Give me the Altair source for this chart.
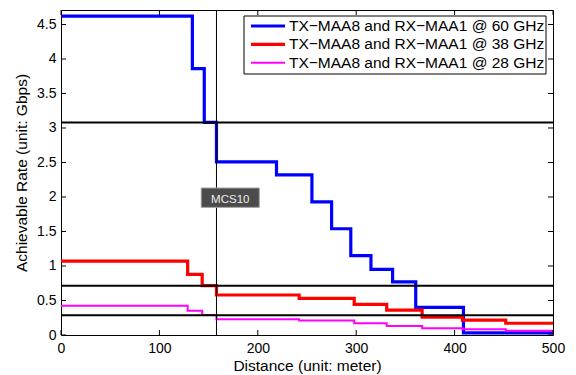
import altair as alt
import pandas as pd

# ---- data ----
dist_blue = [0, 133.5, 145.6, 158, 219, 255, 275, 294.5, 315, 337, 360.5, 409, 500]
rate_blue = [4.62, 3.86, 3.08, 2.51, 2.32, 1.93, 1.54, 1.15, 0.95, 0.77, 0.40, 0.03, 0.03]
dist_low = [0, 128.7, 143.5, 158, 242, 298, 331, 367, 408, 452, 500]
rate_red = [1.07, 0.88, 0.715, 0.58, 0.53, 0.445, 0.36, 0.26, 0.215, 0.17, 0.17]
rate_magenta = [0.425, 0.35, 0.29, 0.23, 0.21, 0.17, 0.13, 0.097, 0.083, 0.062, 0.062]

series_names = [
    "TX\u2212MAA8 and RX\u2212MAA1 @ 60 GHz",
    "TX\u2212MAA8 and RX\u2212MAA1 @ 38 GHz",
    "TX\u2212MAA8 and RX\u2212MAA1 @ 28 GHz",
]
series_colors = ["#0000ff", "#ff0000", "#ff00ff"]
series_widths = [3.2, 3.2, 2.0]

threshold_rates = [3.08, 0.715, 0.285]
mcs_distance = [158]
mcs_label = ["MCS10"]
mcs_label_pos = [172, 1.96]
mcs_box = [142.5, 201.5, 1.85, 2.13]

x_ticks = [0, 100, 200, 300, 400, 500]
y_ticks = [0, 0.5, 1, 1.5, 2, 2.5, 3, 3.5, 4, 4.5]

W, H = 492, 325
FONT = "Liberation Sans"

xscale = alt.Scale(domain=[0, 500], nice=False, zero=False)
yscale = alt.Scale(domain=[0, 4.71], nice=False, zero=False)
xaxis = alt.Axis(values=x_ticks, tickSize=0, domain=False, grid=False, labelFontSize=14,
                 labelFont=FONT, labelColor="black", labelPadding=6, labelFlush=False,
                 labelOverlap=False, title="Distance (unit: meter)",
                 titleFont=FONT, titleFontSize=15.5, titleFontWeight="normal", titleColor="black",
                 titlePadding=3)
yaxis = alt.Axis(values=y_ticks, tickSize=0, domain=False, grid=False, labelFontSize=14,
                 labelFont=FONT, labelColor="black", labelPadding=5, format="~g",
                 labelFlush=False, labelOverlap=False,
                 title="Achievable Rate (unit: Gbps)", titleFont=FONT, titleFontSize=15.5,
                 titleFontWeight="normal", titleColor="black", titlePadding=7)


def X(f):
    return alt.X(f + ":Q", scale=xscale, axis=xaxis)


def Y(f):
    return alt.Y(f + ":Q", scale=yscale, axis=yaxis)


layers = []

series_data = [
    (dist_blue, rate_blue),
    (dist_low, rate_red),
    (dist_low, rate_magenta),
]
for (d, r), c, w in zip(series_data, series_colors, series_widths):
    df = pd.DataFrame({"d": d, "r": r})
    layers.append(
        alt.Chart(df).mark_line(interpolate="step-after", color=c, strokeWidth=w)
        .encode(x=X("d"), y=Y("r"))
    )

# threshold lines
layers.append(
    alt.Chart(pd.DataFrame({"r": threshold_rates})).mark_rule(color="black", strokeWidth=2)
    .encode(y=Y("r"))
)
# vertical MCS line
layers.append(
    alt.Chart(pd.DataFrame({"d": mcs_distance})).mark_rule(color="black", strokeWidth=1)
    .encode(x=X("d"))
)
# MCS10 label box
box_df = pd.DataFrame({"x1": [mcs_box[0]], "x2": [mcs_box[1]], "y1": [mcs_box[2]], "y2": [mcs_box[3]]})
layers.append(
    alt.Chart(box_df).mark_rect(fill="#4b4b4b", stroke="#a0a0a0", strokeWidth=1)
    .encode(x=X("x1"), x2="x2", y=Y("y1"), y2="y2")
)
lab_df = pd.DataFrame({"d": [mcs_label_pos[0]], "r": [mcs_label_pos[1]], "t": mcs_label})
layers.append(
    alt.Chart(lab_df).mark_text(color="#eeeeee", font=FONT, fontSize=11.5, align="center", baseline="middle")
    .encode(x=X("d"), y=Y("r"), text="t:N")
)

# inward ticks (MATLAB style box)
xt = pd.DataFrame({"t": x_ticks})
yt = pd.DataFrame({"t": y_ticks})
layers.append(alt.Chart(xt).mark_rule(color="black", strokeWidth=1)
              .encode(x=X("t"), y=alt.value(H), y2=alt.value(H - 5)))
layers.append(alt.Chart(xt).mark_rule(color="black", strokeWidth=1)
              .encode(x=X("t"), y=alt.value(0), y2=alt.value(5)))
layers.append(alt.Chart(yt).mark_rule(color="black", strokeWidth=1)
              .encode(y=Y("t"), x=alt.value(0), x2=alt.value(5)))
layers.append(alt.Chart(yt).mark_rule(color="black", strokeWidth=1)
              .encode(y=Y("t"), x=alt.value(W), x2=alt.value(W - 5)))

# legend
one = pd.DataFrame({"a": [0]})
layers.append(alt.Chart(one).mark_rect(fill="white", stroke="black", strokeWidth=1)
              .encode(x=alt.value(183), x2=alt.value(485), y=alt.value(6), y2=alt.value(64)))
for i, (name, c, w) in enumerate(zip(series_names, series_colors, series_widths)):
    yy = 16 + i * 18.35
    layers.append(alt.Chart(one).mark_rule(color=c, strokeWidth=w)
                  .encode(x=alt.value(190), x2=alt.value(224), y=alt.value(yy)))
    layers.append(alt.Chart(pd.DataFrame({"t": [name]})).mark_text(
        color="black", font=FONT, fontSize=15.5, align="left", baseline="middle")
        .encode(x=alt.value(228), y=alt.value(yy), text="t:N"))

chart = alt.layer(*layers).properties(
    width=W, height=H,
    autosize=alt.AutoSizeParams(type="none"),
    padding={"left": 61, "top": 10, "right": 23, "bottom": 40},
    background="white",
).configure_view(stroke="black", strokeWidth=1)

chart.save("out.html", embed_options={"renderer": "svg", "actions": False})
